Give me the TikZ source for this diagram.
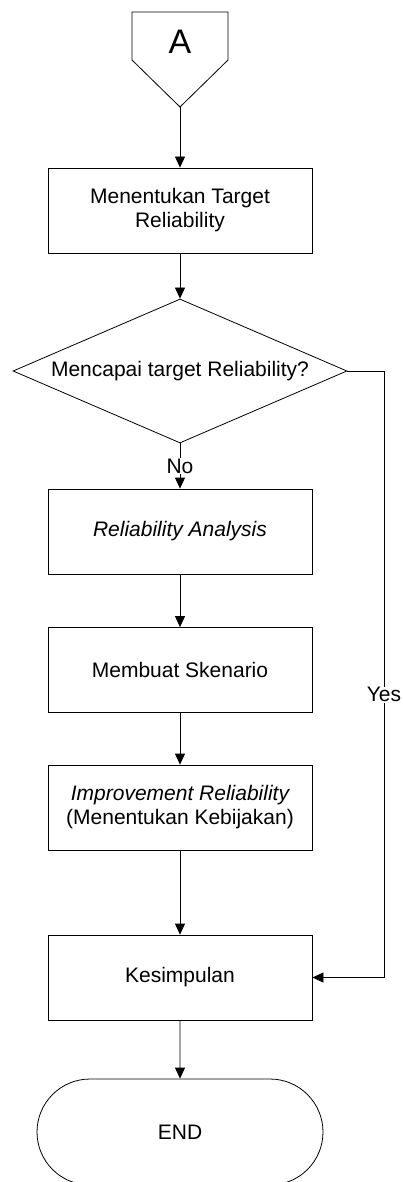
\documentclass[tikz,border=0pt]{standalone}
\usepackage{fontspec}
\setmainfont{Liberation Sans}
\usetikzlibrary{shapes.geometric,shapes.misc,arrows.meta}
\begin{document}
\begin{tikzpicture}[x=1pt,y=-1pt,
  line width=0.8pt,
  every node/.style={font=\fontsize{21}{24}\selectfont},
  stepbox/.style={draw, rectangle, minimum width=264pt, minimum height=85pt,
    inner sep=0pt, align=center},
  decision/.style={draw, diamond, aspect=2.32, minimum width=334pt,
    minimum height=144pt, inner sep=0pt, align=center},
  terminal/.style={draw, rounded rectangle, minimum width=286pt,
    minimum height=106pt, inner sep=0pt},
  lbl/.style={fill=white, inner sep=1pt},
  arr/.style={-{Triangle[length=11pt,width=10pt]}}]
\useasboundingbox (0,0) rectangle (403,1182);

% off-page connector
\draw (132,12) -- (228,12) -- (228,60) -- (180,107) -- (132,60) -- cycle;
\node (A) at (180,42) {\fontsize{34}{38}\selectfont A};
\coordinate (Atip) at (180,107);

\node[stepbox] (b1) at (180,210.5) {Menentukan Target\\Reliability};
\node[decision] (dec) at (180,371) {Mencapai target Reliability?};
\node[stepbox] (b2) at (180,531.5) {\itshape Reliability Analysis};
\node[stepbox] (b3) at (180,670) {Membuat Skenario};
\node[stepbox] (b4) at (180,807.5) {\itshape Improvement Reliability\\(Menentukan Kebijakan)};
\node[stepbox] (b5) at (180,977.5) {Kesimpulan};
\node[terminal] (end) at (180,1132) {END};
\coordinate (yc) at (384,371);

\draw[arr] (Atip) -- (b1);
\draw[arr] (b1) -- (dec);
\draw[arr] (dec.south) -- node[lbl] {No} (b2);
\draw[arr] (b2) -- (b3);
\draw[arr] (b3) -- (b4);
\draw[arr] (b4) -- (b5);
\draw[arr] (b5) -- (end);
\draw[arr] (dec.east) -- (yc) |- node[lbl, pos=0.267] {Yes} (b5);
\end{tikzpicture}
\end{document}
